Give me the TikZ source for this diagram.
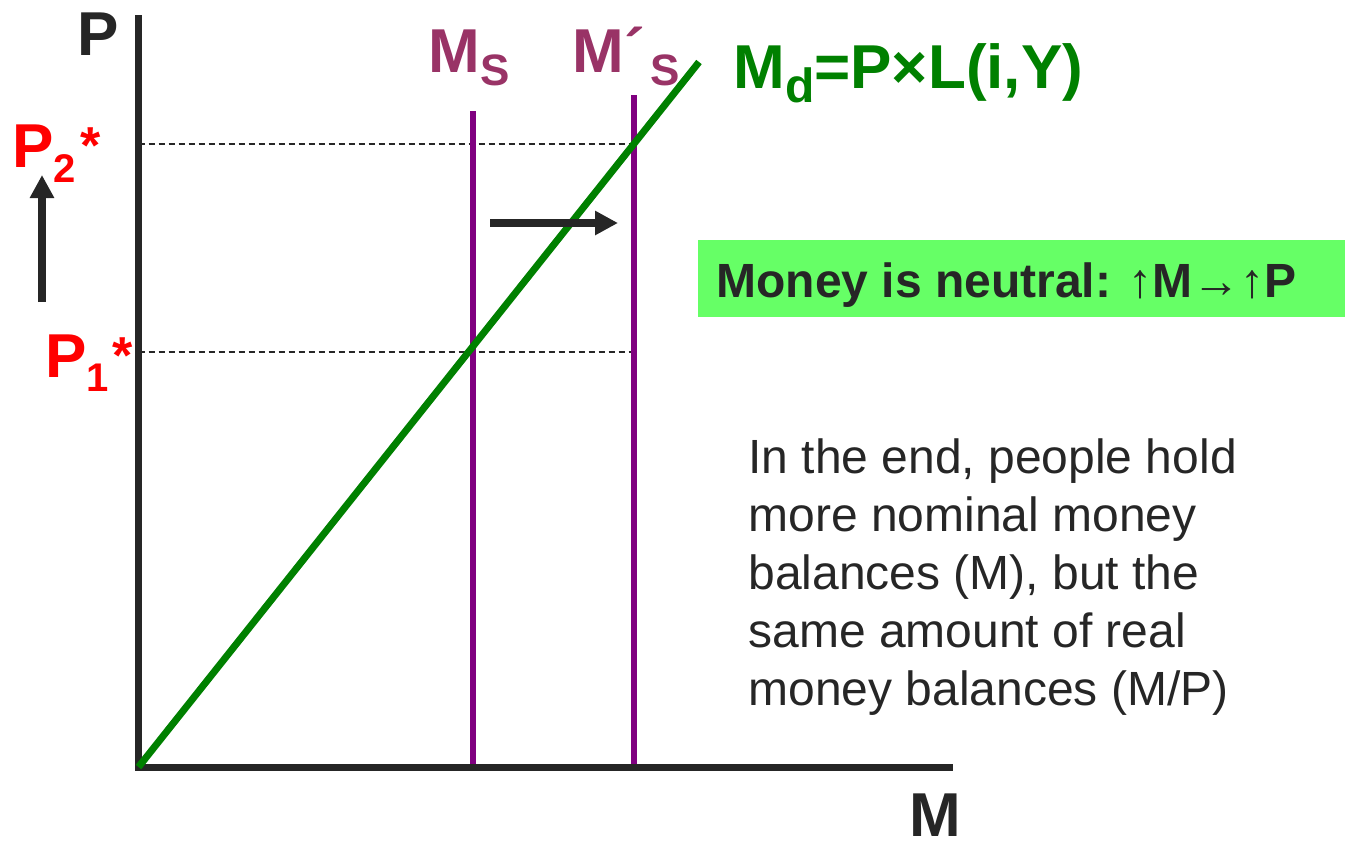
\documentclass[tikz,border=0pt]{standalone}
\usepackage{fontspec}
\setmainfont{Liberation Sans}
\usetikzlibrary{arrows.meta}
\definecolor{axisgrey}{HTML}{262626}
\definecolor{supplypurple}{HTML}{800080}
\definecolor{supplylabel}{HTML}{993366}
\definecolor{demandgreen}{HTML}{008000}
\definecolor{pricered}{HTML}{FF0000}
\definecolor{notegreen}{HTML}{66FF66}
\newcommand{\subtxt}[3]{\raisebox{-#1}{\fontsize{#2}{#2}\selectfont #3}}

\begin{document}
\begin{tikzpicture}[x=0.5pt,y=-0.5pt,>=Latex,
 ax/.style={line width=3.5pt,draw=axisgrey},
 supply/.style={line width=3pt,draw=supplypurple},
 demand/.style={line width=3.5pt,draw=demandgreen},
 guide/.style={line width=1pt,draw=axisgrey,dash pattern=on 3pt off 2pt},
 shiftarrow/.style={line width=4pt,draw=axisgrey,-{Triangle[length=11.5pt,width=11.5pt]}},
 lbl/.style={inner sep=0,anchor=base west,font=\fontsize{31}{37}\selectfont\bfseries},
 note/.style={inner sep=0,anchor=base west,align=left,text=axisgrey,font=\fontsize{24}{29}\selectfont}]
\useasboundingbox (0,0) rectangle (1345,842);

% coordinates of the diagram
\coordinate (O) at (138.5,767);
\coordinate (Ptop) at (138.5,15);
\coordinate (Mend) at (953,767);
\coordinate (Dtop) at (699,62);
\coordinate (S1top) at (473,111);
\coordinate (S1bot) at (473,767);
\coordinate (S2top) at (634,95);
\coordinate (S2bot) at (634,767);

% equilibrium guides
\draw[guide] (O |- 0,144) coordinate (g2) -- (S2top |- g2);
\draw[guide] (O |- 0,352) coordinate (g1) -- (S2top |- g1);

% money supply
\draw[supply] (S1top) -- (S1bot);
\draw[supply] (S2top) -- (S2bot);

% axes
\draw[ax,line join=miter] (Ptop) -- (O) -- (Mend);

% money demand
\draw[demand] (O) -- (Dtop);

% shifts
\coordinate (rs) at (490,223);
\coordinate (re) at (618,223);
\draw[shiftarrow] (rs) -- (re);
\coordinate (us) at (42,302);
\coordinate (ue) at (42,175);
\draw[shiftarrow] (us) -- (ue);

% labels
\node[lbl,text=axisgrey] (Plab) at (77,55) {P};
\node[lbl,text=axisgrey,text depth=0pt] (Mlab) at (909,836) {M};
\node[lbl,text=supplylabel] (Ms) at (428,72) {M\subtxt{6.5pt}{22}{S}};
\node[lbl,text=supplylabel] (Msp) at (572,72) {M´\hspace{3pt}\subtxt{6.5pt}{22}{S}};
\node[lbl,text=demandgreen] (Md) at (733,88) {M\subtxt{7pt}{24}{d}=P×L(i,Y)};
\node[lbl,text=pricered] (P2) at (12,167) {P\subtxt{7.5pt}{20}{2}\hspace{2pt}\raisebox{2pt}{\fontsize{26}{26}\selectfont *}};
\node[lbl,text=pricered] (P1) at (45,377) {P\subtxt{7pt}{20}{1}\hspace{2pt}\raisebox{2pt}{\fontsize{26}{26}\selectfont *}};

% note box
\fill[notegreen] (698,240) rectangle (1345,317);
\node[inner sep=0,anchor=base west,text=axisgrey,font=\fontsize{24}{29}\selectfont\bfseries] (neutral) at (716,297) {Money is neutral: ↑M→↑P};

\node[note] (endtxt) at (748,705) {In the end, people hold\\more nominal money\\balances (M), but the\\same amount of real\\money balances (M/P)};
\end{tikzpicture}
\end{document}
